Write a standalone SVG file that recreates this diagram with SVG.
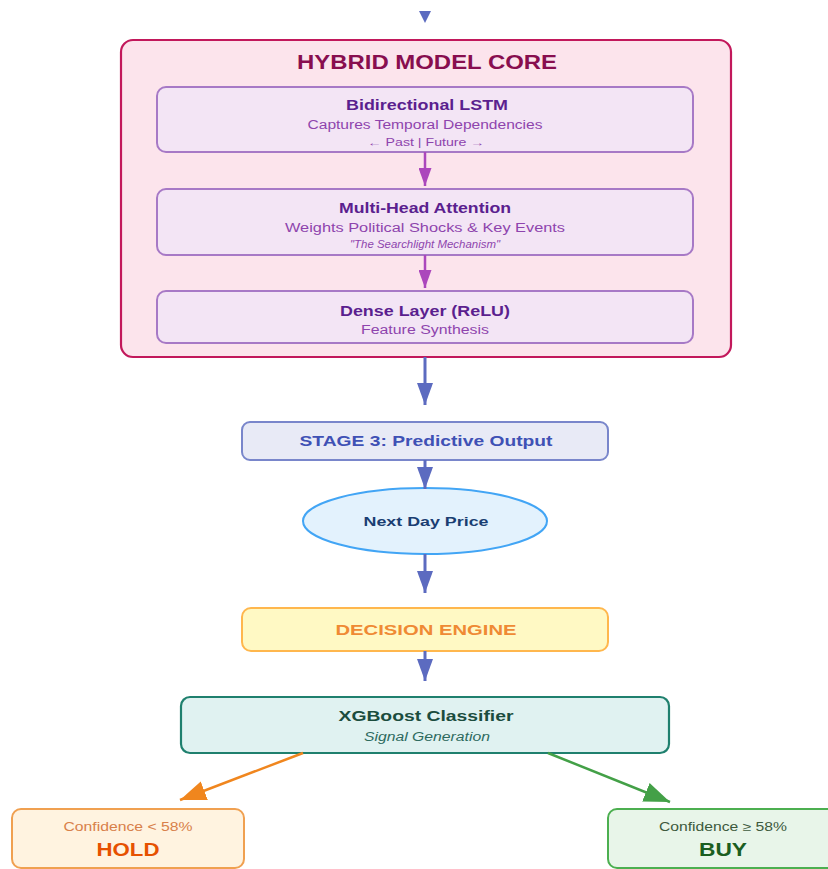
<svg xmlns="http://www.w3.org/2000/svg" width="828" height="869" viewBox="0 0 828 869">
<defs>
<marker id="mb" viewBox="0 0 22 16" refX="22" refY="8" markerWidth="22" markerHeight="16" orient="auto" markerUnits="userSpaceOnUse"><path d="M0,0 L22,8 L0,16 z" fill="#5c6bc0"/></marker>
<marker id="mp" viewBox="0 0 18 13" refX="18" refY="6.5" markerWidth="18" markerHeight="13" orient="auto" markerUnits="userSpaceOnUse"><path d="M0,0 L18,6.5 L0,13 z" fill="#ab47bc"/></marker>
<marker id="mo" viewBox="0 0 26 20" refX="26" refY="10" markerWidth="26" markerHeight="20" orient="auto" markerUnits="userSpaceOnUse"><path d="M0,0 L26,10 L0,20 z" fill="#f0861e"/></marker>
<marker id="mg" viewBox="0 0 26 20" refX="26" refY="10" markerWidth="26" markerHeight="20" orient="auto" markerUnits="userSpaceOnUse"><path d="M0,0 L26,10 L0,20 z" fill="#43a047"/></marker>
</defs>
<style>
text{font-family:"Liberation Sans",Arial,sans-serif;text-anchor:middle}
.layer{fill:#f3e5f5;stroke:#a779c6;stroke-width:2}
.lt{font-size:14px;font-weight:bold;fill:#5b1f8f}
.ls{font-size:12px;fill:#8e44ad}
.lx{font-size:10px;fill:#8e44ad}
.cb{fill:none;stroke:#5c6bc0;stroke-width:3}
.cp{fill:none;stroke:#ab47bc;stroke-width:2.5}
</style>
<rect width="828" height="869" fill="#ffffff"/>
<g id="core">
<rect x="121" y="40" width="610" height="317" rx="12" fill="#fce4ec" stroke="#c2185b" stroke-width="2.2"/>
<text x="427" y="69" font-size="20" font-weight="bold" fill="#880e4f" textLength="260" lengthAdjust="spacingAndGlyphs">HYBRID MODEL CORE</text>
</g>
<g id="lstm">
<rect class="layer" x="157" y="87" width="536" height="65" rx="9"/>
<text class="lt" x="427" y="110" textLength="162" lengthAdjust="spacingAndGlyphs">Bidirectional LSTM</text>
<text class="ls" x="425" y="129" textLength="235" lengthAdjust="spacingAndGlyphs">Captures Temporal Dependencies</text>
<text class="lx" x="426" y="146" textLength="117" lengthAdjust="spacingAndGlyphs">← Past | Future →</text>
</g>
<g id="attention">
<rect class="layer" x="157" y="189" width="536" height="66" rx="9"/>
<text class="lt" x="425" y="213" textLength="172" lengthAdjust="spacingAndGlyphs">Multi-Head Attention</text>
<text class="ls" x="425" y="232" textLength="280" lengthAdjust="spacingAndGlyphs">Weights Political Shocks &amp; Key Events</text>
<text class="lx" x="425" y="248" font-style="italic" textLength="150" lengthAdjust="spacingAndGlyphs">"The Searchlight Mechanism"</text>
</g>
<g id="dense">
<rect class="layer" x="157" y="291" width="536" height="52" rx="9"/>
<text class="lt" x="425" y="316" textLength="170" lengthAdjust="spacingAndGlyphs">Dense Layer (ReLU)</text>
<text class="ls" x="425" y="334" textLength="128" lengthAdjust="spacingAndGlyphs">Feature Synthesis</text>
</g>
<g id="stage3">
<rect x="242" y="422" width="366" height="38" rx="8" fill="#e8eaf6" stroke="#7986cb" stroke-width="2"/>
<text x="426" y="446" font-size="15" font-weight="bold" fill="#3f51b5" textLength="253" lengthAdjust="spacingAndGlyphs">STAGE 3: Predictive Output</text>
</g>
<g id="price">
<ellipse cx="425" cy="521" rx="122" ry="33" fill="#e3f2fd" stroke="#42a5f5" stroke-width="2"/>
<text x="426" y="526" font-size="13" font-weight="bold" fill="#1a3e72" textLength="125" lengthAdjust="spacingAndGlyphs">Next Day Price</text>
</g>
<g id="decision">
<rect x="242" y="608" width="366" height="43" rx="9" fill="#fff9c4" stroke="#ffb74d" stroke-width="2"/>
<text x="426" y="635" font-size="15" font-weight="bold" fill="#ef8a34" textLength="181" lengthAdjust="spacingAndGlyphs">DECISION ENGINE</text>
</g>
<g id="xgboost">
<rect x="181" y="697" width="488" height="56" rx="9" fill="#e0f2f1" stroke="#1f806e" stroke-width="2.2"/>
<text x="426" y="721" font-size="15" font-weight="bold" fill="#1b4d3e" textLength="175" lengthAdjust="spacingAndGlyphs">XGBoost Classifier</text>
<text x="427" y="741" font-size="12" font-style="italic" fill="#2e6b5f" textLength="126" lengthAdjust="spacingAndGlyphs">Signal Generation</text>
</g>
<g id="hold">
<rect x="12" y="809" width="232" height="59" rx="9" fill="#fff3e0" stroke="#f0a050" stroke-width="2"/>
<text x="128" y="831" font-size="12" fill="#d8804a" textLength="129" lengthAdjust="spacingAndGlyphs">Confidence &lt; 58%</text>
<text x="128" y="856" font-size="18" font-weight="bold" fill="#e65100" textLength="63" lengthAdjust="spacingAndGlyphs">HOLD</text>
</g>
<g id="buy">
<rect x="608" y="809" width="232" height="59" rx="9" fill="#e8f5e9" stroke="#4caf50" stroke-width="2"/>
<text x="723" y="831" font-size="12" fill="#3d5a3d" textLength="128" lengthAdjust="spacingAndGlyphs">Confidence ≥ 58%</text>
<text x="723" y="856" font-size="18" font-weight="bold" fill="#1b5e20" textLength="48" lengthAdjust="spacingAndGlyphs">BUY</text>
</g>
<g id="connectors">
<path d="M419,11 L431,11 L425,23 z" fill="#5c6bc0"/>
<line class="cp" x1="425" y1="152" x2="425" y2="186" marker-end="url(#mp)"/>
<line class="cp" x1="425" y1="255" x2="425" y2="288" marker-end="url(#mp)"/>
<line class="cb" x1="425" y1="357" x2="425" y2="405" marker-end="url(#mb)"/>
<line class="cb" x1="425" y1="460" x2="425" y2="489" marker-end="url(#mb)"/>
<line class="cb" x1="425" y1="554" x2="425" y2="593" marker-end="url(#mb)"/>
<line class="cb" x1="425" y1="651" x2="425" y2="681" marker-end="url(#mb)"/>
<line x1="303" y1="753" x2="180" y2="800" stroke="#f0861e" stroke-width="2.5" marker-end="url(#mo)"/>
<line x1="548" y1="753" x2="670" y2="802" stroke="#43a047" stroke-width="2.5" marker-end="url(#mg)"/>
</g>
</svg>
